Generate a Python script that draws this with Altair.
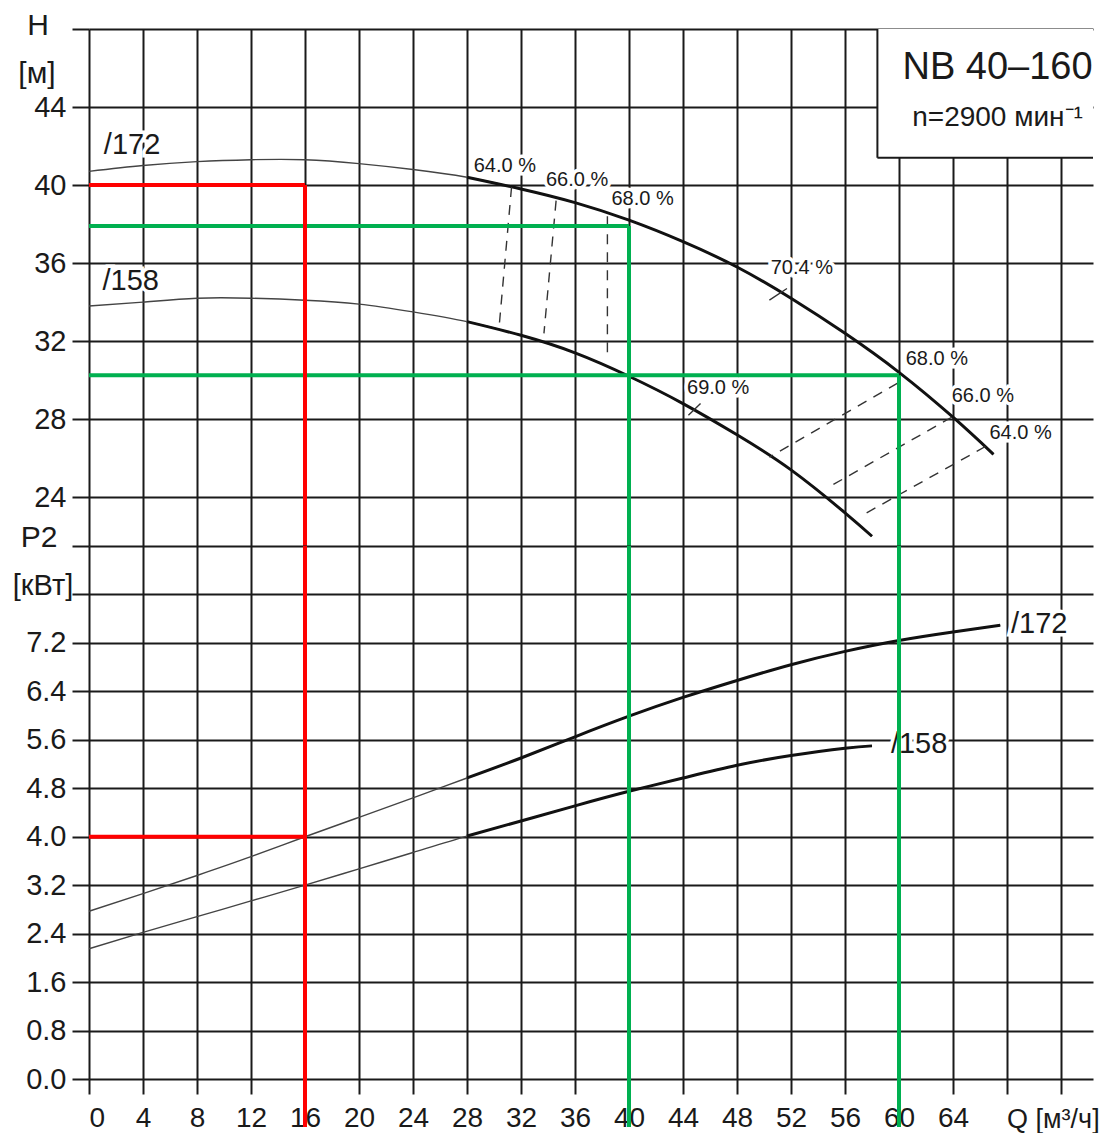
import altair as alt
import pandas as pd

FONT = "Liberation Sans"
INK = "#1a1a1a"

# ---------------- axis values ----------------
Q_GRID = [0, 4, 8, 12, 16, 20, 24, 28, 32, 36, 40, 44, 48, 52, 56, 60, 64, 68, 72]
H_GRID = [24, 28, 32, 36, 40, 44, 48]
P_GRID = [0.0, 0.8, 1.6, 2.4, 3.2, 4.0, 4.8, 5.6, 6.4, 7.2, 8.0, 8.8]

# ---------------- head curves H(Q) ----------------
H172_Q = [0, 4, 8, 12, 16, 20, 24, 28, 32, 36, 40, 44, 48, 52, 56, 60, 64, 67]
H172_H = [40.7, 41.0, 41.2, 41.3, 41.3, 41.1, 40.8, 40.4, 39.8, 39.1, 38.2, 37.1, 35.8, 34.2, 32.4, 30.4, 28.1, 26.2]
H158_Q = [0, 4, 8, 12, 16, 20, 24, 28, 32, 36, 40, 44, 48, 52, 56, 58]
H158_H = [33.8, 34.0, 34.2, 34.2, 34.1, 33.9, 33.5, 33.0, 32.3, 31.4, 30.2, 28.8, 27.2, 25.4, 23.2, 22.0]

# ---------------- power curves P2(Q) ----------------
P172_Q = [0, 4, 8, 12, 16, 20, 24, 28, 32, 36, 40, 44, 48, 52, 56, 60, 64, 67.5]
P172_P = [2.77, 3.06, 3.36, 3.67, 4.0, 4.32, 4.64, 4.97, 5.3, 5.65, 5.99, 6.3, 6.58, 6.84, 7.06, 7.24, 7.38, 7.49]
P158_Q = [0, 4, 8, 12, 16, 20, 24, 28, 32, 36, 40, 44, 48, 52, 56, 58]
P158_P = [2.15, 2.42, 2.68, 2.94, 3.2, 3.47, 3.74, 4.01, 4.26, 4.51, 4.75, 4.97, 5.18, 5.34, 5.46, 5.5]
THICK_FROM_Q = 29

# ---------------- iso-efficiency lines (dashed) ----------------
EFF_NAME = ["64L", "66L", "68L", "68R", "66R", "64R"]
EFF_Q1 = [31.3, 34.6, 38.4, 59.9, 63.9, 66.4]
EFF_H1 = [39.9, 39.2, 38.4, 29.85, 28.1, 26.6]
EFF_Q2 = [30.4, 33.7, 38.4, 50.4, 55.0, 57.6]
EFF_H2 = [32.9, 32.4, 31.4, 26.05, 24.6, 23.2]

# best-efficiency short marks
BEP_Q1 = [50.4, 44.4]
BEP_H1 = [34.1, 28.2]
BEP_Q2 = [51.7, 45.3]
BEP_H2 = [34.7, 28.8]

# efficiency labels
EFF_TEXT = ["64.0 %", "66.0 %", "68.0 %", "70.4 %", "69.0 %", "68.0 %", "66.0 %", "64.0 %"]
EFF_LQ = [28.5, 33.85, 38.7, 50.5, 44.3, 60.5, 63.9, 66.7]
EFF_LH = [41.0, 40.25, 39.3, 35.75, 29.6, 31.1, 29.2, 27.3]

# curve labels
CURVE_TEXT = ["/172", "/158"]
CURVE_LQ_H = [1.1, 1.0]
CURVE_LH = [42.05, 35.1]
CURVE_LQ_P = [68.3, 59.4]
CURVE_LP = [7.51, 5.53]

# operating points (selection lines)
OP_COLOR = ["#ff0000", "#00b050", "#00b050"]
OP_Q = [16, 40, 60]
OP_H = [40.0, 37.9, 30.25]
RED_P = 4.0
RED_Q = 16

# info box
BOX_Q = 58.4
BOX_H = 41.4
BOX_TEXT = ["NB 40\u2013160", "n=2900 \u043c\u0438\u043d\u207b\u00b9"]
BOX_TQ = [67.3, 67.3]
BOX_TH = [46.0, 43.45]
BOX_TSIZE = [38, 28]

Q_TITLE = "Q [\u043c\u00b3/\u0447]"
Q_TITLE_AT = 68.0

# ---------------- geometry ----------------
PX_PER_Q = 13.5
W = 1004
HT = 517
HB = 533

xs = alt.Scale(domain=[0, W / PX_PER_Q], nice=False, zero=False)
ys_h = alt.Scale(domain=[21.5, 48], nice=False, zero=False)
ys_p = alt.Scale(domain=[0, 8.8], nice=False, zero=False)

# ---------------- data frames ----------------
df_h = pd.concat([
    pd.DataFrame({"curve": "172", "Q": H172_Q, "H": H172_H}),
    pd.DataFrame({"curve": "158", "Q": H158_Q, "H": H158_H}),
])
df_p = pd.concat([
    pd.DataFrame({"curve": "172", "Q": P172_Q, "P": P172_P}),
    pd.DataFrame({"curve": "158", "Q": P158_Q, "P": P158_P}),
])
df_eff = pd.concat([
    pd.DataFrame({"name": EFF_NAME, "Q": EFF_Q1, "H": EFF_H1, "o": 0}),
    pd.DataFrame({"name": EFF_NAME, "Q": EFF_Q2, "H": EFF_H2, "o": 1}),
])
df_bep = pd.DataFrame({"Q": BEP_Q1, "H": BEP_H1, "Q2": BEP_Q2, "H2": BEP_H2})
df_efft = pd.DataFrame({"t": EFF_TEXT, "Q": EFF_LQ, "H": EFF_LH})
df_ch = pd.DataFrame({"t": CURVE_TEXT, "Q": CURVE_LQ_H, "H": CURVE_LH})
df_cp = pd.DataFrame({"t": CURVE_TEXT, "Q": CURVE_LQ_P, "P": CURVE_LP})
df_op = pd.DataFrame({"c": OP_COLOR, "Q": OP_Q, "H": OP_H, "Q0": 0})
df_red = pd.DataFrame({"c": [OP_COLOR[0]], "Q": [RED_Q], "P": [RED_P], "Q0": 0})
df_box = pd.DataFrame({"Q": [BOX_Q], "H": [BOX_H]})
df_boxt = pd.DataFrame({"t": BOX_TEXT, "Q": BOX_TQ, "H": BOX_TH, "s": BOX_TSIZE})
one = pd.DataFrame({"k": [0]})

# ---------------- axes ----------------
grid_kw = dict(grid=True, gridColor=INK, gridWidth=2, gridOpacity=1, domain=False, title=None)
x_axis_top = alt.Axis(values=Q_GRID, labels=False, ticks=False, **grid_kw)
x_axis_bot = alt.Axis(values=Q_GRID, ticks=True, tickSize=15, tickColor=INK, tickWidth=2,
                      labelExpr="datum.value > 64 ? '' : datum.label", labelFont=FONT,
                      labelFontSize=28, labelColor=INK, labelPadding=10, **grid_kw)
y_axis_h = alt.Axis(values=H_GRID, ticks=True, tickSize=17, tickColor=INK, tickWidth=2,
                    labelExpr="datum.value >= 48 ? '' : datum.label", labelFont=FONT,
                    labelFontSize=29, labelColor=INK, labelPadding=6, **grid_kw)
y_axis_p = alt.Axis(values=P_GRID, ticks=True, tickSize=17, tickColor=INK, tickWidth=2, format=".1f",
                    labelExpr="datum.value > 7.5 ? '' : datum.label", labelFont=FONT,
                    labelFontSize=29, labelColor=INK, labelPadding=6, **grid_kw)


def XT(f):
    return alt.X(f, type="quantitative", scale=xs, axis=x_axis_top)


def XB(f):
    return alt.X(f, type="quantitative", scale=xs, axis=x_axis_bot)


def YH(f):
    return alt.Y(f, type="quantitative", scale=ys_h, axis=y_axis_h)


def YP(f):
    return alt.Y(f, type="quantitative", scale=ys_p, axis=y_axis_p)


def labels(df, X, Y, yfield, size, align="left"):
    base = alt.Chart(df)
    enc = dict(x=X("Q"), y=Y(yfield), text="t:N")
    halo = base.mark_text(align=align, baseline="middle", font=FONT, fontSize=size,
                          stroke="white", strokeWidth=7, fill="white").encode(**enc)
    txt = base.mark_text(align=align, baseline="middle", font=FONT, fontSize=size, color=INK).encode(**enc)
    return halo + txt


def side_label(text, px, py, size=29):
    return alt.Chart(one).mark_text(text=text, font=FONT, fontSize=size, color=INK,
                                    align="center", baseline="middle").encode(
        x=alt.value(px), y=alt.value(py))


INTERP = "natural"

# ---------------- top panel (H) ----------------
h_thin = alt.Chart(df_h).mark_line(color="#444", strokeWidth=1.4, interpolate=INTERP).encode(
    x=XT("Q"), y=YH("H"), detail="curve:N")
h_thick = alt.Chart(df_h).transform_filter(alt.datum.Q >= THICK_FROM_Q - 1).mark_line(
    color="#111", strokeWidth=3, interpolate=INTERP).encode(x=XT("Q"), y=YH("H"), detail="curve:N")
eff = alt.Chart(df_eff).mark_line(color="#333", strokeWidth=1.4, strokeDash=[10, 8]).encode(
    x=XT("Q"), y=YH("H"), detail="name:N", order="o:Q")
bep = alt.Chart(df_bep).mark_rule(color="#333", strokeWidth=1.4).encode(
    x=XT("Q"), y=YH("H"), x2="Q2:Q", y2="H2:Q")
box_fill = alt.Chart(df_box).mark_rect(color="white").encode(
    x=XT("Q"), x2=alt.value(W), y=YH("H"), y2=alt.value(0))
box_left = alt.Chart(df_box).mark_rule(color=INK, strokeWidth=2).encode(
    x=XT("Q"), y=YH("H"), y2=alt.value(0))
box_bottom = alt.Chart(df_box).mark_rule(color=INK, strokeWidth=2).encode(
    x=XT("Q"), x2=alt.value(W), y=YH("H"))
box_text = alt.Chart(df_boxt).mark_text(font=FONT, color=INK, align="center", baseline="middle").encode(
    x=XT("Q"), y=YH("H"), text="t:N", size=alt.Size("s:Q", scale=None, legend=None))
op_h = alt.Chart(df_op).mark_rule(strokeWidth=4).encode(
    x=XT("Q0"), x2="Q:Q", y=YH("H"), color=alt.Color("c:N", scale=None))
op_v = alt.Chart(df_op).mark_rule(strokeWidth=4).encode(
    x=XT("Q"), y=YH("H"), y2=alt.value(HT), color=alt.Color("c:N", scale=None))

top = alt.layer(
    h_thin, h_thick, eff, bep, box_fill, box_left, box_bottom, box_text,
    labels(df_efft, XT, YH, "H", 20), labels(df_ch, XT, YH, "H", 29),
    side_label("H", -51, -3, 30), side_label("[\u043c]", -52, 45, 30),
    op_h, op_v,
).properties(width=W, height=HT)

# ---------------- bottom panel (P2) ----------------
p_thin = alt.Chart(df_p).mark_line(color="#444", strokeWidth=1.4, interpolate=INTERP).encode(
    x=XB("Q"), y=YP("P"), detail="curve:N")
p_thick = alt.Chart(df_p).transform_filter(alt.datum.Q >= THICK_FROM_Q - 1).mark_line(
    color="#111", strokeWidth=3, interpolate=INTERP).encode(x=XB("Q"), y=YP("P"), detail="curve:N")
red_h = alt.Chart(df_red).mark_rule(strokeWidth=4).encode(
    x=XB("Q0"), x2="Q:Q", y=YP("P"), color=alt.Color("c:N", scale=None))
op_v2 = alt.Chart(df_op).mark_rule(strokeWidth=4).encode(
    x=XB("Q"), y=alt.value(0), y2=alt.value(HB + 48), color=alt.Color("c:N", scale=None))
q_title = alt.Chart(one).mark_text(text=Q_TITLE, font=FONT, fontSize=27, color=INK,
                                   align="left", baseline="middle").encode(
    x=alt.datum(Q_TITLE_AT, scale=xs, axis=x_axis_bot), y=alt.value(HB + 41))

bottom = alt.layer(
    p_thin, p_thick, labels(df_cp, XB, YP, "P", 29),
    side_label("P2", -50, -8, 30), side_label("[\u043a\u0412\u0442]", -46, 40, 29),
    q_title, red_h, op_v2,
).properties(width=W, height=HB)

chart = alt.vconcat(top, bottom, spacing=0).properties(
    bounds="flush", padding={"left": 4, "top": 3, "right": 0, "bottom": 0}
).configure_view(strokeWidth=0)

chart.save("out.html", embed_options={"renderer": "svg", "actions": False})
